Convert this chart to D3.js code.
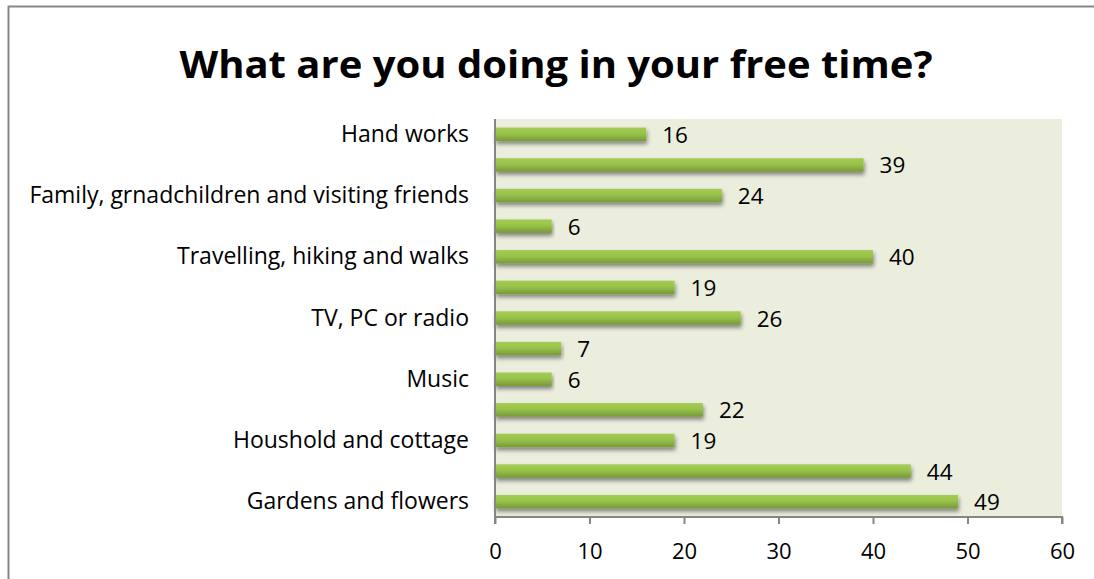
<!DOCTYPE html>
<html>
<head>
<meta charset="utf-8">
<script src="https://cdn.jsdelivr.net/npm/d3@7"></script>
<style>
  html, body { margin: 0; padding: 0; background: #fff; }
  svg { display: block; }
  text { font-family: "Open Sans", "Noto Sans", sans-serif; fill: #000; }
</style>
</head>
<body>
<svg id="chart" width="1094" height="579"></svg>
<script>
// Activities, top to bottom; every other name is not printed on the axis
const categories = [
  "Hand works", "",
  "Family, grnadchildren and visiting friends", "",
  "Travelling, hiking and walks", "",
  "TV, PC or radio", "",
  "Music", "",
  "Houshold and cottage", "",
  "Gardens and flowers"
];
const values = [16, 39, 24, 6, 40, 19, 26, 7, 6, 22, 19, 44, 49];
const xTicks = [0, 10, 20, 30, 40, 50, 60];
const title = "What are you doing in your free time?";

const svg = d3.select("#chart");
const plot = { left: 495, right: 1062, top: 119, bottom: 517 };

// outer frame
svg.append("rect")
  .attr("x", 8.5).attr("y", 6.5)
  .attr("width", 1200).attr("height", 700)
  .attr("fill", "#fff").attr("stroke", "#878787").attr("stroke-width", 2);

// title
svg.append("text")
  .attr("x", 556).attr("y", 78)
  .attr("text-anchor", "middle")
  .attr("font-size", 37).attr("font-weight", 700)
  .attr("textLength", 753).attr("lengthAdjust", "spacingAndGlyphs")
  .text(title);

const x = d3.scaleLinear().domain([0, 60]).range([plot.left, plot.right]);
const y = d3.scaleBand().domain(d3.range(categories.length))
  .range([plot.top, plot.bottom]).paddingInner(0.56).paddingOuter(0.28);

// plot area background
svg.append("rect")
  .attr("x", plot.left).attr("y", plot.top)
  .attr("width", plot.right - plot.left).attr("height", plot.bottom - plot.top)
  .attr("fill", "#ebeddd");

const defs = svg.append("defs");
const grad = defs.append("linearGradient").attr("id", "barGrad")
  .attr("x1", 0).attr("y1", 0).attr("x2", 0).attr("y2", 1);
grad.append("stop").attr("offset", "0%").attr("stop-color", "#a3cc55");
grad.append("stop").attr("offset", "45%").attr("stop-color", "#98c349");
grad.append("stop").attr("offset", "100%").attr("stop-color", "#76993a");

const shadow = defs.append("filter").attr("id", "barShadow")
  .attr("x", "-5%").attr("y", "-50%").attr("width", "110%").attr("height", "250%");
shadow.append("feGaussianBlur").attr("in", "SourceAlpha").attr("stdDeviation", 2.2).attr("result", "b");
shadow.append("feOffset").attr("in", "b").attr("dx", 1).attr("dy", 3).attr("result", "o");
shadow.append("feComponentTransfer").attr("in", "o").attr("result", "s")
  .append("feFuncA").attr("type", "linear").attr("slope", 0.45);
const merge = shadow.append("feMerge");
merge.append("feMergeNode").attr("in", "s");
merge.append("feMergeNode").attr("in", "SourceGraphic");

// bars
svg.append("g").selectAll("rect").data(values).join("rect")
  .attr("x", x(0))
  .attr("y", (d, i) => y(i))
  .attr("width", d => x(d) - x(0))
  .attr("height", y.bandwidth())
  .attr("fill", "url(#barGrad)")
  .attr("filter", "url(#barShadow)");

// value labels
svg.append("g").selectAll("text").data(values).join("text")
  .attr("x", d => x(d) + 16)
  .attr("y", (d, i) => y(i) + y.bandwidth() / 2 + 8.5)
  .attr("font-size", 22.5)
  .text(d => d);

// y axis line
svg.append("line")
  .attr("x1", plot.left).attr("x2", plot.left)
  .attr("y1", plot.top).attr("y2", plot.bottom)
  .attr("stroke", "#868686").attr("stroke-width", 2);

// category labels
svg.append("g").selectAll("text").data(categories).join("text")
  .attr("x", 469)
  .attr("y", (d, i) => y(i) + y.bandwidth() / 2 + 7.5)
  .attr("text-anchor", "end")
  .attr("font-size", 23)
  .text(d => d);

// x axis
const xAxis = d3.axisBottom(x).tickValues(xTicks).tickSize(7).tickPadding(19)
  .tickFormat(d3.format("d"));
const gx = svg.append("g").attr("transform", `translate(0,${plot.bottom})`).call(xAxis);
gx.select(".domain").attr("stroke", "#868686").attr("stroke-width", 2)
  .attr("d", `M${plot.left},7V0H${plot.right}V7`);
gx.selectAll(".tick line").attr("stroke", "#868686").attr("stroke-width", 2);
gx.selectAll(".tick text").attr("font-size", 22)
  .attr("font-family", "\"Open Sans\", \"Noto Sans\", sans-serif").attr("fill", "#000");
</script>
</body>
</html>
